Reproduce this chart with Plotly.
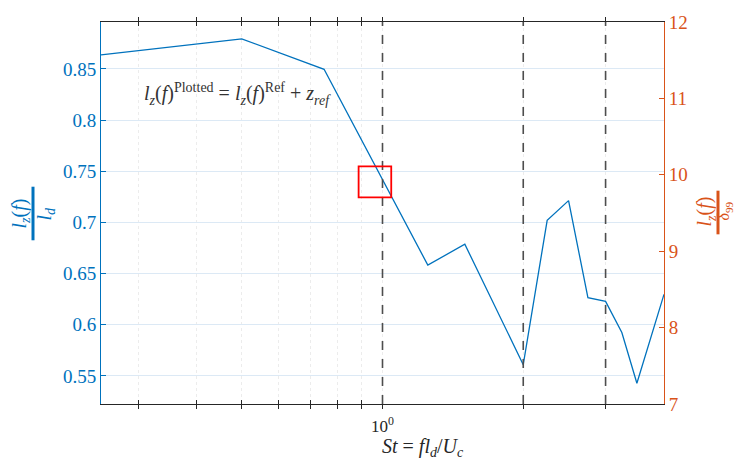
import math
import plotly.graph_objects as go

# ---- data ----
st = [0.25, 0.5, 0.75, 1.25, 1.5, 2.0, 2.25, 2.5, 2.75, 3.0, 3.25, 3.5, 4.0]
lz_ld = [0.8636, 0.8794, 0.8496, 0.6583, 0.6787, 0.561, 0.702, 0.7213, 0.6265, 0.6229, 0.5925, 0.5429, 0.6297]
dashed_st = [1.0, 2.0, 3.0]
box_st = [0.889, 1.044]
box_lz = [0.7244, 0.7548]
x_tickvals = [0.3, 0.4, 0.5, 0.6, 0.7, 0.8, 0.9, 1, 2, 3]
x_ticktext = ["", "", "", "", "", "", "", "10<sup>0</sup>", "", ""]
y_tickvals = [0.55, 0.6, 0.65, 0.7, 0.75, 0.8, 0.85]
y_ticktext = ["0.55", "0.6", "0.65", "0.7", "0.75", "0.8", "0.85"]
y2_tickvals = [7, 8, 9, 10, 11, 12]
y2_ticktext = ["7", "8", "9", "10", "11", "12"]

BLUE = "#0072BD"
ORANGE = "#D95319"
FONT = "Liberation Serif"

W, H = 736, 460
L, R, T, B = 101, 664, 19, 404
pw, ph = R - L, B - T


def px(x):
    return (x - L) / pw


def py(y):
    return (B - y) / ph


fig = go.Figure()
fig.add_trace(go.Scatter(x=st, y=lz_ld, mode="lines",
                         line=dict(color=BLUE, width=1.3), showlegend=False))
fig.add_trace(go.Scatter(x=[], y=[], yaxis="y2", showlegend=False))

for d in dashed_st:
    fig.add_shape(type="line", xref="x", yref="paper", x0=d, x1=d, y0=0, y1=1,
                  line=dict(color="#4d4d4d", width=1.6, dash="dash"))

fig.add_shape(type="rect", xref="x", yref="y", x0=box_st[0], x1=box_st[1],
              y0=box_lz[0], y1=box_lz[1], line=dict(color="#ff0000", width=1.8))


def ann(x, y, text, size, color, angle=0, xanchor="center"):
    fig.add_annotation(xref="paper", yref="paper", x=px(x), y=py(y),
                       xanchor=xanchor, yanchor="middle", showarrow=False,
                       textangle=angle, text=text,
                       font=dict(family=FONT, size=size, color=color))


# formula annotation
ann(142, 92,
    "<i>l<sub>z</sub></i>(<i>f</i>)<sup>Plotted</sup>&nbsp;=&nbsp;<i>l<sub>z</sub></i>(<i>f</i>)<sup>Ref</sup>&nbsp;+&nbsp;<i>z<sub>ref</sub></i>",
    20, "#333333", xanchor="left")

# left axis fraction label
ann(20, 212, "<i>l<sub>z</sub></i>(<i>f</i>)", 20, BLUE, angle=-90)
ann(45, 212, "<i>l<sub>d</sub></i>", 20, BLUE, angle=-90)
fig.add_shape(type="line", xref="paper", yref="paper", x0=px(33), x1=px(33),
              y0=py(185), y1=py(239), line=dict(color=BLUE, width=3))

# right axis fraction label
ann(706, 210, "<i>l<sub>z</sub></i>(<i>f</i>)", 20, ORANGE, angle=-90)
ann(725, 210, "<i>δ</i><sub>99</sub>", 16, ORANGE, angle=-90)
fig.add_shape(type="line", xref="paper", yref="paper", x0=px(718), x1=px(718),
              y0=py(189), y1=py(233), line=dict(color=ORANGE, width=3))

# x-axis title
ann(423, 448, "<i>St</i>&nbsp;=&nbsp;<i>fl<sub>d</sub></i>/<i>U<sub>c</sub></i>", 20, "#262626")

fig.update_layout(
    width=W, height=H, autosize=False,
    margin=dict(l=L, r=W - R, t=T, b=H - B),
    paper_bgcolor="white", plot_bgcolor="white",
    font=dict(family=FONT, size=18),
    xaxis=dict(type="log", range=[math.log10(0.25), math.log10(4)],
               tickvals=x_tickvals, ticktext=x_ticktext,
               ticks="inside", ticklen=4, tickcolor="#262626", tickwidth=1,
               showline=True, linecolor="#262626", linewidth=1, mirror="allticks",
               showgrid=True, gridcolor="#ececec", griddash="dot", gridwidth=1,
               tickfont=dict(family=FONT, size=17, color="#262626"),
               ticklabelstandoff=7, zeroline=False),
    yaxis=dict(range=[0.5226, 0.8958], tickvals=y_tickvals, ticktext=y_ticktext,
               ticks="inside", ticklen=5, tickcolor=BLUE, tickwidth=1,
               showline=True, linecolor=BLUE, linewidth=1,
               showgrid=True, gridcolor="#dce9f5", gridwidth=1,
               tickfont=dict(family=FONT, size=19, color=BLUE),
               zeroline=False),
    yaxis2=dict(range=[7, 12], tickvals=y2_tickvals, ticktext=y2_ticktext,
                overlaying="y", side="right",
                ticks="inside", ticklen=5, tickcolor=ORANGE, tickwidth=1,
                showline=True, linecolor=ORANGE, linewidth=1,
                showgrid=False, zeroline=False,
                tickfont=dict(family=FONT, size=19, color=ORANGE)),
)

fig.write_html("out.html")
